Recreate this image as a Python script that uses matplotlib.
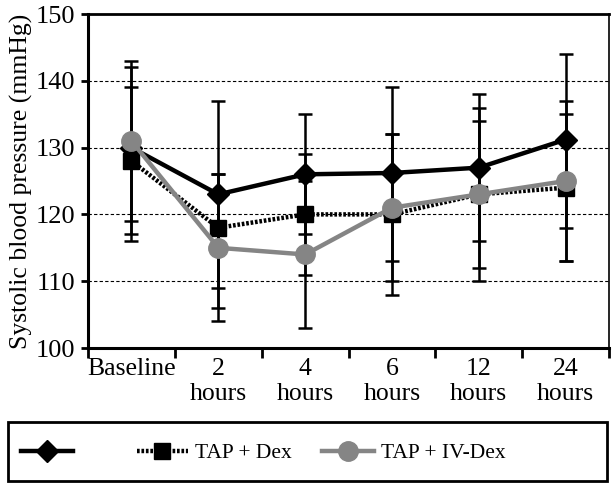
import numpy as np
import matplotlib.pyplot as plt
from matplotlib.patches import Rectangle
from matplotlib.ticker import FixedLocator, NullFormatter

plt.rcParams['font.family'] = ['Liberation Serif', 'DejaVu Serif']

# data (means, and the error bar ends)
categories = ['Baseline', '2\nhours', '4\nhours', '6\nhours', '12\nhours', '24\nhours']
tap = [130, 123, 126, 126.2, 127, 131.2]
tap_hi = [142, 137, 135, 139, 138, 144]
tap_lo = [117, 109, 117, 113, 116, 118]
tap_dex = [128, 118, 120, 120, 123, 124]
tap_dex_hi = [139, 126, 129, 132, 136, 135]
tap_dex_lo = [116, 106, 111, 108, 110, 113]
tap_ivdex = [131, 115, 114, 121, 123, 125]
tap_ivdex_hi = [143, 126, 125, 132, 134, 137]
tap_ivdex_lo = [119, 104, 103, 110, 112, 113]
labels = ['', 'TAP + Dex', 'TAP + IV-Dex']

x = np.arange(len(categories))
grey = '#858585'

fig = plt.figure(figsize=(6.13, 4.83), dpi=100)
ax = fig.add_axes([0.1436, 0.2795, 0.850, 0.6915])

# error bars first (all black)
for vals, hi, lo in [(tap, tap_hi, tap_lo), (tap_dex, tap_dex_hi, tap_dex_lo),
                     (tap_ivdex, tap_ivdex_hi, tap_ivdex_lo)]:
    vals = np.array(vals)
    err = [vals - np.array(lo), np.array(hi) - vals]
    ax.errorbar(x, vals, yerr=err, fmt='none', ecolor='black', elinewidth=1.8,
                capsize=5, capthick=1.8, zorder=3)

h1, = ax.plot(x, tap, color='black', lw=3.2, marker='D', ms=11,
              mfc='black', mec='black', zorder=5)
h2, = ax.plot(x, tap_dex, color='black', lw=3.2, ls=(0, (0.6, 0.4)), marker='s',
              ms=11, mfc='black', mec='black', zorder=4)
h3, = ax.plot(x, tap_ivdex, color=grey, lw=3.2, marker='o', ms=14,
              mfc=grey, mec=grey, zorder=6)

ax.set_ylim(100, 150)
ax.set_xlim(-0.5, len(categories) - 0.5)
ax.set_yticks([100, 110, 120, 130, 140, 150])
for yv in [110, 120, 130, 140]:
    ax.axhline(yv, color='black', lw=0.8, ls=(0, (3, 2)), zorder=1)

ax.xaxis.set_major_locator(FixedLocator(np.arange(-0.5, len(categories), 1.0)))
ax.xaxis.set_major_formatter(NullFormatter())
ax.xaxis.set_minor_locator(FixedLocator(x))
ax.set_xticklabels(categories, minor=True)
ax.tick_params(axis='x', which='major', direction='out', length=7, width=2)
ax.tick_params(axis='x', which='minor', length=0, pad=7, labelsize=18.5)
ax.tick_params(axis='y', direction='out', length=5, width=2, labelsize=19, pad=4)
for lab in ax.get_xticklabels(minor=True):
    lab.set_linespacing(1.17)

ax.spines['left'].set_linewidth(2.2)
ax.spines['bottom'].set_linewidth(2.2)
ax.spines['top'].set_linewidth(2.0)
ax.spines['right'].set_linewidth(1.2)

ax.set_ylabel('Systolic blood pressure (mmHg)', fontsize=18.5, labelpad=2)

# legend box across the bottom
fig.patches.append(Rectangle((8 / 613, 2 / 483), 599 / 613, 59 / 483,
                             transform=fig.transFigure, fill=False,
                             edgecolor='black', lw=2.0))
labels[0] = '\u2002\u2002 '
leg = fig.legend([h1, h2, h3], labels, loc='center left', ncol=3,
                 bbox_to_anchor=(0.02, 30 / 483), fontsize=15.5,
                 handlelength=2.4, frameon=False, borderaxespad=0,
                 handletextpad=0.33, columnspacing=1.4)

fig.savefig('out.png', dpi=100)
